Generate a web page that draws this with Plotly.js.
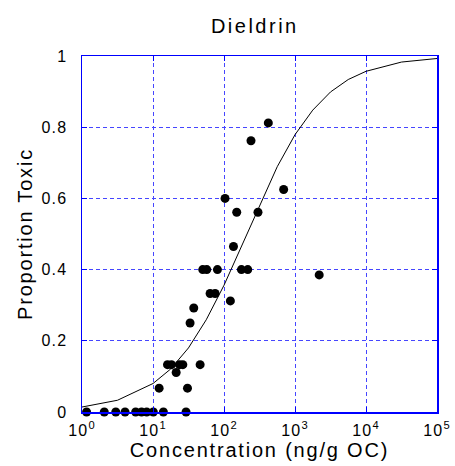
<!DOCTYPE html>
<html>
<head>
<meta charset="utf-8">
<script src="https://cdn.plot.ly/plotly-3.0.1.min.js"></script>
<style>
html,body{margin:0;padding:0;background:#fff;}
#chart{width:455px;height:466px;}
#chart .gtitle{letter-spacing:2.5px;}
#chart .xtitle, #chart .ytitle{letter-spacing:1.8px;}
#chart .xtick text, #chart .ytick text{letter-spacing:1.2px;}
</style>
</head>
<body>
<div id="chart"></div>
<script>
// Observed data: concentration (ng/g OC) and proportion toxic
const concentration = [1.16, 2.06, 2.99, 4.04, 5.7, 6.9, 8.15, 10.1, 14, 29.2,
  12.2, 30.6,
  16, 18.2, 23.6, 26.3, 46.1,
  21.2,
  33.3, 37.5,
  63.7, 74.9,
  50.2, 57.2, 80.8,
  123,
  176, 216,
  136, 151, 301, 103.5, 692, 240, 421, 2193];
const proportionToxic = [0, 0, 0, 0, 0, 0, 0, 0, 0, 0,
  0.067, 0.067,
  0.133, 0.133, 0.133, 0.133, 0.133,
  0.111,
  0.25, 0.292,
  0.333, 0.333,
  0.4, 0.4, 0.4,
  0.312,
  0.4, 0.4,
  0.465, 0.561, 0.561, 0.6, 0.625, 0.762, 0.812, 0.385];

// Fitted curve
const curveConc = [1, 3.16, 10, 17.8, 31.6, 56.2, 100, 178, 316, 562, 1000, 1778, 3162, 5623, 10000, 31623, 100000];
const curveProp = [0.014, 0.033, 0.080, 0.121, 0.180, 0.259, 0.356, 0.468, 0.582, 0.689, 0.779, 0.848, 0.899, 0.934, 0.957, 0.983, 0.993];

const xTickVals = [1, 10, 100, 1000, 10000, 100000];
const xTickText = ['10<sup>0</sup>', '10<sup>1</sup>', '10<sup>2</sup>', '10<sup>3</sup>', '10<sup>4</sup>', '10<sup>5</sup>'];
const yTickVals = [0, 0.2, 0.4, 0.6, 0.8, 1];
const yTickText = ['0', '0.2', '0.4', '0.6', '0.8', '1'];

const font = 'Liberation Sans, Arial, sans-serif';

const traces = [
  {x: curveConc, y: curveProp, mode: 'lines', type: 'scatter',
   line: {color: '#000000', width: 1}, hoverinfo: 'skip', cliponaxis: false},
  {x: concentration, y: proportionToxic, mode: 'markers', type: 'scatter',
   marker: {color: '#000000', size: 9}, cliponaxis: false}
];

const axisCommon = {
  showline: true, linecolor: '#0000ff', linewidth: 1.5, mirror: 'ticks',
  ticks: 'inside', ticklen: 5, tickcolor: '#0000ff', tickwidth: 1,
  showgrid: true, gridcolor: '#4646ff', griddash: '4px,3px', gridwidth: 1,
  zeroline: false, tickfont: {family: font, size: 16, color: '#000'}
};

const layout = {
  width: 455, height: 466,
  margin: {l: 82, r: 18, t: 56, b: 54},
  paper_bgcolor: '#fff', plot_bgcolor: '#fff',
  showlegend: false,
  font: {family: font, color: '#000'},
  title: {text: 'Dieldrin', font: {family: font, size: 20, color: '#000'},
          x: 0.56, xanchor: 'center', y: 0.945, yanchor: 'middle'},
  xaxis: Object.assign({}, axisCommon, {
    type: 'log', range: [0, 5], tickvals: xTickVals, ticktext: xTickText,
    ticklabelstandoff: 3,
    title: {text: 'Concentration (ng/g OC)', font: {family: font, size: 20, color: '#000'}, standoff: 2}
  }),
  yaxis: Object.assign({}, axisCommon, {
    range: [0, 1], tickvals: yTickVals, ticktext: yTickText,
    ticklabelstandoff: 10,
    title: {text: 'Proportion Toxic', font: {family: font, size: 20, color: '#000'}, standoff: 7}
  })
};

Plotly.newPlot('chart', traces, layout, {displayModeBar: false, staticPlot: true});
</script>
</body>
</html>
